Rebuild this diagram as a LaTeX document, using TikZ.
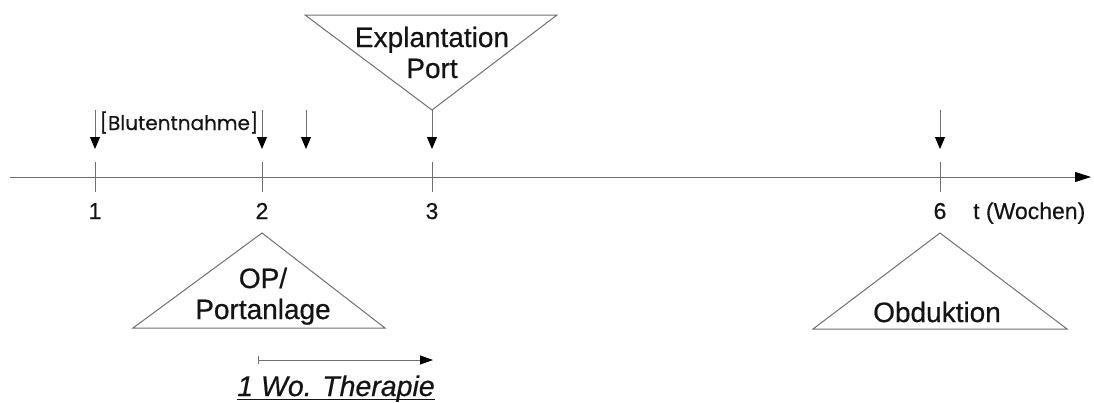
\documentclass[tikz,border=0pt]{standalone}
\usepackage{fontspec}
\setmainfont{Liberation Sans}
\newfontfamily\medfont{Liberation Sans}[FakeBold=0.5]
\newfontfamily\blutfont{Poppins}[FakeBold=0.3]
\usetikzlibrary{arrows.meta}
\definecolor{linegray}{HTML}{707070}
\definecolor{txt}{HTML}{141414}
\tikzset{
  tline/.style={draw=linegray, line width=1pt},
  evarrow/.style={draw=linegray, line width=1pt, -{Triangle[length=12pt,width=10pt,color=black]}},
  big/.style={font=\medfont\fontsize{28}{31}\selectfont, text=txt, inner sep=0pt, align=center},
  lab/.style={font=\medfont\fontsize{23}{26}\selectfont, text=txt, inner sep=0pt, anchor=base},
}
\begin{document}
\begin{tikzpicture}[x=1pt,y=-1pt]
\useasboundingbox (0,0) rectangle (1094,402);
% axis
\coordinate (ax0) at (10,177);
\coordinate (ax1) at (1091,177);
\draw[tline, -{Triangle[length=16pt,width=10pt,color=black]}] (ax0) -- (ax1);
% ticks
\foreach \n/\x in {1/95, 2/262, 3/432, 6/940}{
  \coordinate (t\n a) at (\x,162);
  \coordinate (t\n b) at (\x,192);
  \draw[tline] (t\n a) -- (t\n b);
  \node[lab] (l\n) at (\x,219) {\n};
}
\node[lab, anchor=base west] (tw) at (973,219) {t (Wochen)};
% event arrows
\foreach \k/\x in {a/95, b/262, c/306, d/940}{
  \coordinate (e\k0) at (\x,110);
  \coordinate (e\k1) at (\x,149);
  \draw[evarrow] (e\k0) -- (e\k1);
}
% Blutentnahme
\node[font=\blutfont\fontsize{20}{22}\selectfont, text=txt, inner sep=0pt, anchor=base] (blut) at (179,130) {[Blutentnahme]};
% Explantation triangle
\coordinate (ex1) at (305,15);
\coordinate (ex2) at (557,15);
\coordinate (ex3) at (432,110);
\draw[tline] (ex1) -- (ex2) -- (ex3) -- cycle;
\node[big, anchor=base] (expl) at (432,78) {Explantation\\Port};
\coordinate (ec1) at (432,149);
\draw[evarrow] (ex3) -- (ec1);
% OP triangle
\coordinate (op1) at (262,233);
\coordinate (op2) at (385,328);
\coordinate (op3) at (133,328);
\draw[tline] (op1) -- (op2) -- (op3) -- cycle;
\node[big, anchor=base] (op) at (263,319) {OP/\\Portanlage};
% Obduktion triangle
\coordinate (ob1) at (940,233);
\coordinate (ob2) at (1067,329);
\coordinate (ob3) at (813,329);
\draw[tline] (ob1) -- (ob2) -- (ob3) -- cycle;
\node[big, anchor=base] (obd) at (937,322) {Obduktion};
% therapy arrow
\coordinate (th0) at (258,360);
\coordinate (th1) at (433,360);
\draw[draw=linegray, line width=1pt, {Bar[width=8pt]}-{Triangle[length=13pt,width=9pt,color=black]}] (th0) -- (th1);
\node[big, anchor=base, font=\medfont\fontsize{28.5}{31}\selectfont\itshape] (thr) at (336,396) {1 Wo. Therapie};
\draw[draw=txt, line width=1.6pt] ([yshift=-3.5pt]thr.base west) -- ([yshift=-3.5pt]thr.base east);
\end{tikzpicture}
\end{document}
